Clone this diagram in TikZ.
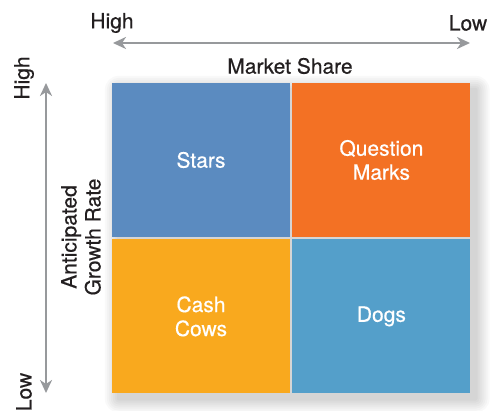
\documentclass[tikz,border=0pt]{standalone}
\usepackage{fontspec}
\setmainfont{TeX Gyre Heros}[FakeBold=0.5]
\usetikzlibrary{arrows.meta,positioning,backgrounds,calc}
\definecolor{starblue}{HTML}{5B8BC0}
\definecolor{qorange}{HTML}{F37124}
\definecolor{cowyellow}{HTML}{F9A91E}
\definecolor{dogblue}{HTML}{549FCA}
\definecolor{axisgray}{HTML}{97999C}
\definecolor{labelblack}{HTML}{231F20}

\begin{document}
\begin{tikzpicture}[
    x=1pt, y=-1pt,
    font=\fontsize{21}{24}\selectfont,
    node distance=2pt,
    quad/.style={minimum width=178pt, minimum height=154pt, inner sep=0pt, align=center, text=white},
    axis/.style={{Stealth[length=13pt,width=12pt,inset=4pt]}-{Stealth[length=13pt,width=12pt,inset=4pt]}, line width=2.8pt, draw=axisgray},
    tag/.style={text=labelblack, align=center, inner sep=0pt}
]
\useasboundingbox (0,0) rectangle (490,411);

% matrix quadrants
\node[quad, fill=starblue] (stars) at (201,160) {Stars};
\node[quad, fill=qorange, right=of stars] (qmarks) {Question\\Marks};
\node[quad, fill=cowyellow, below=of stars] (cows) {Cash\\Cows};
\node[quad, fill=dogblue, below=of qmarks] (dogs) {\raisebox{-3pt}{Dogs}};

% soft shadow behind the matrix
\begin{scope}[on background layer]
\fill[white] (0,0) rectangle (490,411);
\foreach \s in {2,4,...,14}
  \fill[black, opacity=0.025, rounded corners=\s pt] ($(stars.north west)+(7-\s,7-\s)$) rectangle ($(dogs.south east)+(5+\s,5+\s)$);
\end{scope}

% axes
\coordinate (shareHigh) at (113,43);
\coordinate (shareLow) at (470,43);
\coordinate (growthHigh) at (46,83);
\coordinate (growthLow) at (46,393);
\draw[axis] (shareHigh) -- (shareLow);
\draw[axis] (growthHigh) -- (growthLow);

% axis labels
\node[tag] (sharehightag) at (112,23) {High};
\node[tag] (sharelowtag) at (468,23) {Low};
\node[tag] (sharetag) at (290,66) {Market Share};
\node[tag, rotate=90] (growthhightag) at (24,78) {High};
\node[tag, rotate=90] (growthlowtag) at (24,392) {Low};
\node[tag, rotate=90] (growthtag) at (81,237) {Anticipated\\Growth Rate};
\end{tikzpicture}
\end{document}
